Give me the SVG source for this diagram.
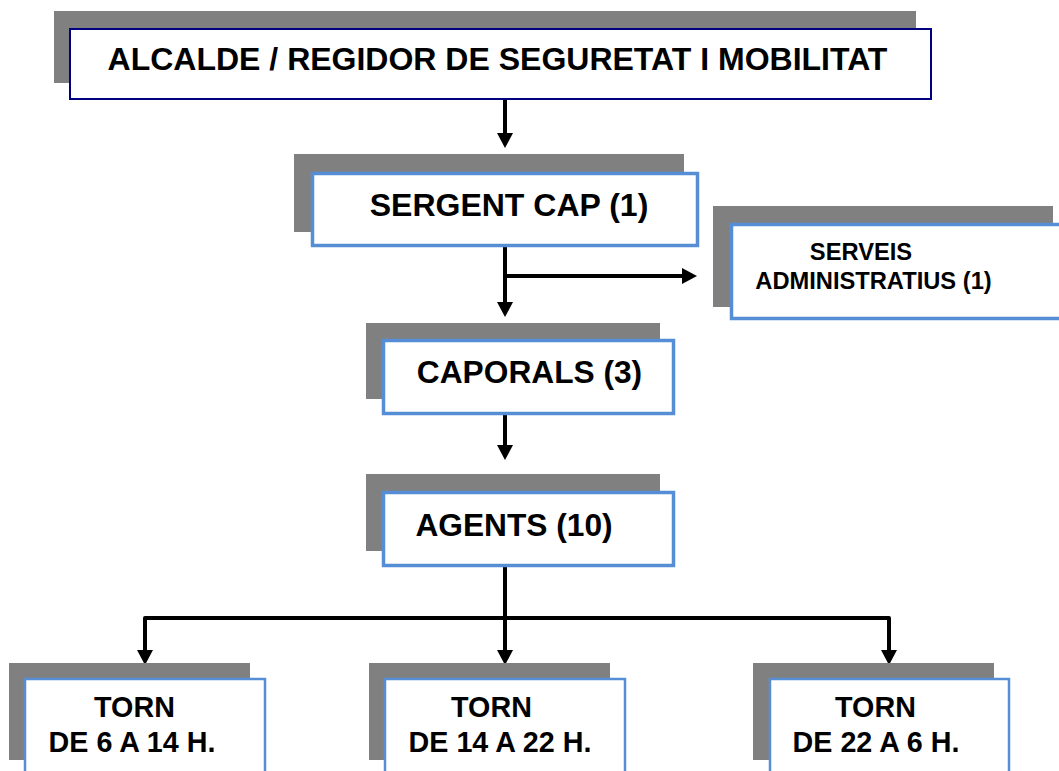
<svg xmlns="http://www.w3.org/2000/svg" width="1059" height="771" viewBox="0 0 1059 771">
  <style>
    .shadow { fill: #808080; }
    .box { fill: #ffffff; stroke: #558ED5; stroke-width: 3.5; }
    .box-top { fill: #ffffff; stroke: #000080; stroke-width: 2; }
    .box-thin { fill: #ffffff; stroke: #558ED5; stroke-width: 2.5; }
    .lbl { font-family: "Liberation Sans", Arial, sans-serif; font-weight: bold; fill: #000000; text-anchor: middle; }
    .conn { fill: none; stroke: #000000; stroke-width: 4; stroke-linejoin: round; marker-end: url(#arrow); }
  </style>
  <defs>
    <marker id="arrow" markerUnits="userSpaceOnUse" viewBox="0 0 15 16" refX="0" refY="8" markerWidth="15" markerHeight="16" orient="auto">
      <path d="M0,0 L15,8 L0,16 Z" fill="#000000"/>
    </marker>
  </defs>
  <rect width="1059" height="771" fill="#ffffff"/>

  <g id="connectors">
    <path class="conn" d="M505,100 V133"/>
    <path class="conn" d="M505,247 V302"/>
    <path class="conn" d="M505,276 H682"/>
    <path class="conn" d="M505,415 V445"/>
    <path class="conn" d="M505,567 V650"/>
    <path class="conn" d="M505,618 H145 V650"/>
    <path class="conn" d="M505,618 H889 V650"/>
  </g>

  <g id="node-alcalde">
    <rect class="shadow" x="54" y="11" width="862" height="72"/>
    <rect class="box-top" x="70" y="29" width="861" height="70"/>
    <text class="lbl" x="497.5" y="70" font-size="32">ALCALDE / REGIDOR DE SEGURETAT I MOBILITAT</text>
  </g>

  <g id="node-sergent">
    <rect class="shadow" x="294" y="154" width="390" height="78"/>
    <rect class="box" x="312.5" y="173.5" width="385" height="72"/>
    <text class="lbl" x="509" y="216" font-size="32">SERGENT CAP (1)</text>
  </g>

  <g id="node-serveis">
    <rect class="shadow" x="713" y="206" width="340" height="101"/>
    <rect class="box" x="731.5" y="224.5" width="340" height="94"/>
    <text class="lbl" x="861" y="260" font-size="23.7">SERVEIS</text>
    <text class="lbl" x="873.5" y="289" font-size="23.7">ADMINISTRATIUS (1)</text>
  </g>

  <g id="node-caporals">
    <rect class="shadow" x="366" y="323" width="294" height="76"/>
    <rect class="box" x="383.5" y="340.5" width="290" height="73"/>
    <text class="lbl" x="529.5" y="383" font-size="31.7">CAPORALS (3)</text>
  </g>

  <g id="node-agents">
    <rect class="shadow" x="366" y="474" width="294" height="77"/>
    <rect class="box" x="383.5" y="492.5" width="290" height="73"/>
    <text class="lbl" x="514" y="536" font-size="31.7">AGENTS (10)</text>
  </g>

  <g id="node-torn1">
    <rect class="shadow" x="9" y="663" width="241" height="97"/>
    <rect class="box-thin" x="25" y="679" width="240" height="110"/>
    <text class="lbl" x="134.5" y="717" font-size="28.7">TORN</text>
    <text class="lbl" x="132" y="752" font-size="28.7">DE 6 A 14 H.</text>
  </g>

  <g id="node-torn2">
    <rect class="shadow" x="369" y="663" width="241" height="97"/>
    <rect class="box-thin" x="385" y="679" width="240" height="110"/>
    <text class="lbl" x="491.5" y="717" font-size="28.7">TORN</text>
    <text class="lbl" x="500" y="752" font-size="28.7">DE 14 A 22 H.</text>
  </g>

  <g id="node-torn3">
    <rect class="shadow" x="753" y="663" width="241" height="97"/>
    <rect class="box-thin" x="770" y="679" width="239" height="110"/>
    <text class="lbl" x="875.5" y="717" font-size="28.7">TORN</text>
    <text class="lbl" x="876" y="752" font-size="28.7">DE 22 A 6 H.</text>
  </g>
</svg>
